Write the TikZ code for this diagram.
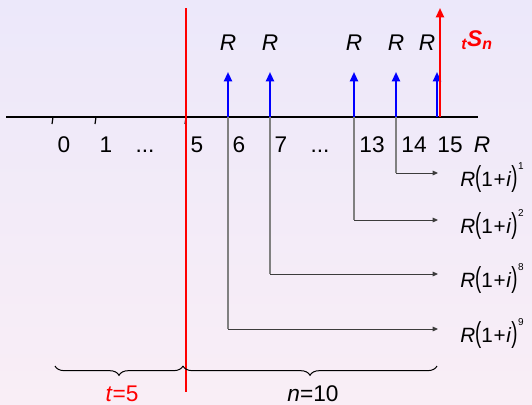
\documentclass[tikz,border=0pt]{standalone}
\usepackage{fontspec}
\setmainfont{Liberation Sans}
\usepackage{graphicx}
\usetikzlibrary{arrows.meta,decorations.pathreplacing}

\definecolor{bgtop}{RGB}{236,232,250}
\definecolor{bgbot}{RGB}{249,238,246}
\definecolor{rulegray}{RGB}{128,128,128}
\definecolor{carrygray}{RGB}{60,60,60}

% accumulated value of one payment
\newcommand{\accum}[1]{\textit{R}\scalebox{0.9}[1.4]{(}1\kern0.5pt+\kern0.5pt\textit{i}\scalebox{0.9}[1.4]{)}\kern0.5pt\raisebox{1.5ex}{\fontsize{7.5}{9}\selectfont #1}}
\newcommand{\gapdots}{...}

\tikzset{
  lbl/.style={inner sep=0pt, font=\fontsize{17}{20}\selectfont},
  sumlbl/.style={inner sep=0pt, font=\fontsize{15.5}{18}\selectfont},
  pay/.style={blue, line width=1.5pt, -{Triangle[length=7pt,width=6pt]}},
  drop/.style={rulegray, line width=1.1pt},
  carry/.style={carrygray, line width=0.75pt, -{Triangle[length=4pt,width=3.5pt]}},
  bracket/.style={decorate, decoration={brace, mirror, amplitude=7pt}, line width=0.75pt}
}

\begin{document}
\begin{tikzpicture}[x=0.75pt,y=0.75pt,yscale=-1,xscale=1]
\useasboundingbox (0,0) rectangle (532,404);
%Background
\shade [top color=bgtop, bottom color=bgbot] (0,0) rectangle (532,404);

%Points on the time line
\coordinate (s) at (6,117);
\coordinate (e) at (478,117);
\coordinate (t0) at (53,117);
\coordinate (t1) at (96,117);
\coordinate (t5) at (186,117);
\coordinate (t6) at (228,117);
\coordinate (t7) at (270,117);
\coordinate (t13) at (354,117);
\coordinate (t14) at (396,117);
\coordinate (t15) at (437,117);

%Straight Lines: time line and small ticks
\draw [line width=1.1pt] (s) -- (e);
\foreach \k in {0,1,5}
  \draw [line width=0.9pt] (t\k) -- ++(-1,7);

%Straight Lines: dividing line at t=5
\coordinate (rtop) at (186,8);
\coordinate (rbot) at (186,392);
\draw [red, line width=1.1pt] (rtop) -- (rbot);

%Straight Lines: each payment carried to the end
\foreach \k/\y/\p in {14/173/1, 13/220/2, 7/274/8, 6/329/9} {
  \coordinate (c\k) at (t\k |- 0,\y);
  \coordinate (g\k) at (438,\y);
  \draw [drop] (t\k) -- (c\k);
  \draw [carry] (c\k) -- (g\k);
  \node [sumlbl, anchor=base west] (v\k) at (460,\y+13) {\accum{\p}};
}

%Straight Lines: payments
\foreach \k in {6,7,13,14,15} {
  \path (t\k) ++(0,-45) coordinate (a\k);
  \draw [pay] (t\k) -- (a\k);
}
% Text Node
\foreach \k/\x in {6/228,7/270,13/354,14/396,15/427}
  \node [lbl, anchor=base] (r\k) at (\x,50) {\textit{R}};

%Straight Lines: accumulated value
\coordinate (s15) at (440,117);
\coordinate (stop) at (440,8);
\draw [red, line width=1.5pt, -{Triangle[length=7pt,width=6pt]}] (s15) -- (stop);
% Text Node
\node [lbl, red, anchor=base, font=\fontsize{17}{20}\selectfont\bfseries\itshape] (sn) at (477,46) {\textsubscript{t}S\textsubscript{n}};

% Text Node: period numbers
\foreach \x/\t [count=\i] in {64/0,106/1,145/\gapdots,197/5,239/6,281/7,320/\gapdots,372/13,414/14,450/15}
  \node [lbl, anchor=base] (num\i) at (\x,152) {\t};
\node [lbl, anchor=base] (rate) at (482,152) {\textit{R}};

%Braces
\coordinate (b0) at (55,366);
\coordinate (b5) at (183,366);
\coordinate (b15) at (437,366);
\draw [bracket] (b0) -- (b5);
\draw [bracket] (b5) -- (b15);
% Text Node
\node [lbl, red, anchor=base] (tl) at (122,401) {\textit{t}=5};
\node [lbl, anchor=base] (nl) at (313,401) {\textit{n}=10};

\end{tikzpicture}
\end{document}
